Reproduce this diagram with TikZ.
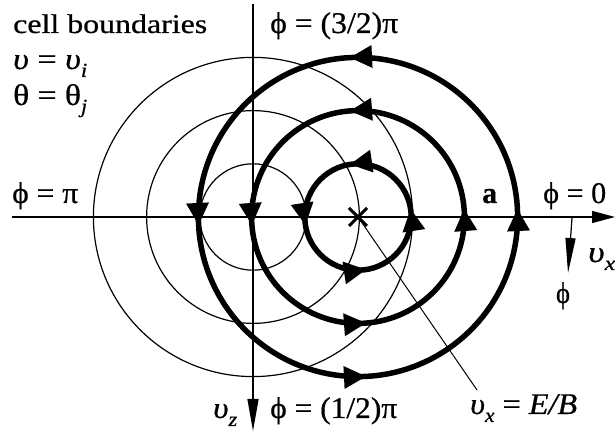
\documentclass[tikz,border=0pt]{standalone}
\usepackage{fontspec}
\setmainfont{Liberation Serif}[FakeBold=0.6]
\usetikzlibrary{arrows.meta,calc}
\newcommand\sbs[1]{\raisebox{-8pt}{\fontsize{20}{20}\selectfont\itshape #1}}
\newcommand\wt[2]{\resizebox{#1pt}{\height}{#2}}
\newcommand\ups{{\itshape υ}}
\begin{document}
\begin{tikzpicture}[x=1pt,y=1pt,
  thincirc/.style={line width=1.2pt},
  thickcirc/.style={line width=5.5pt},
  axisline/.style={line width=1.3pt},
  lbl/.style={inner sep=0pt, anchor=base west, font=\fontsize{30}{34}\selectfont},
  clbl/.style={inner sep=0pt, anchor=base, font=\fontsize{30}{34}\selectfont}]
\useasboundingbox (0,0) rectangle (615,435);
\coordinate (O) at (253,218);
\coordinate (C) at (358,218);
\coordinate (hl) at (12,218);
\coordinate (hr) at (615,218);
\coordinate (vt) at (253,431);
\coordinate (vb) at (253,4);
\coordinate (phs) at (572,217);
\coordinate (phe) at (568,162);
\coordinate (ptr) at (477,45);
% axes
\draw[axisline,-{Triangle[length=23pt,width=12pt]}] (hl) -- (hr);
\draw[axisline,-{Triangle[length=32pt,width=11pt]}] (vt) -- (vb);
\draw[line width=1.2pt,-{Triangle[length=35pt,width=10pt]}] (phs) -- (phe);
% cell boundaries
\foreach \r in {53.2,106.4,159.6} \draw[thincirc] (O) circle[radius=\r];
% orbits
\foreach \r in {53.2,106.4,159.6} {
  \draw[thickcirc] (C) circle[radius=\r];
  \foreach \t in {0,90,180,270} {
    \pgfmathsetmacro\a{\t+458/\r}
    \fill[shift={(C)}, rotate=\a, shift={(\r,0)}, rotate=90] (0,0) -- (-22,11.5) -- (-22,-11.5) -- cycle;
  }
}
% centre cross and pointer
\draw[line width=3pt] ($(C)+(-9,-9)$) -- ($(C)+(9,9)$) ($(C)+(-9,9)$) -- ($(C)+(9,-9)$);
\draw[line width=1pt] (C) -- (ptr);
% labels
\node[lbl, font=\fontsize{27}{30}\selectfont] (cb) at (13,402) {\wt{194}{cell boundaries}};
\node[lbl] (vv) at (13,366) {\wt{74}{\ups\ = \ups\sbs{i}}};
\node[lbl] (tt) at (13,330) {\wt{74}{θ = θ\sbs{j}}};
\node[lbl] (ppi) at (12,232) {\wt{66}{ϕ = π}};
\node[lbl] (p32) at (270,402) {\wt{128}{ϕ = (3/2)π}};
\node[lbl] (a) at (482,232) {\wt{15}{\bfseries a}};
\node[lbl] (p0) at (543,232) {\wt{63}{ϕ = 0}};
\node[lbl] (vx) at (588,173) {\wt{27}{\ups\sbs{x}}};
\node[clbl] (ph) at (563,132) {\wt{14}{ϕ}};
\node[lbl] (vz) at (213,17) {\wt{24}{\ups\sbs{z}}};
\node[lbl] (p12) at (270,17) {\wt{127}{ϕ = (1/2)π}};
\node[lbl] (eb) at (470,21) {\wt{107}{\ups\sbs{x} = {\itshape E/B}}};
\end{tikzpicture}
\end{document}
